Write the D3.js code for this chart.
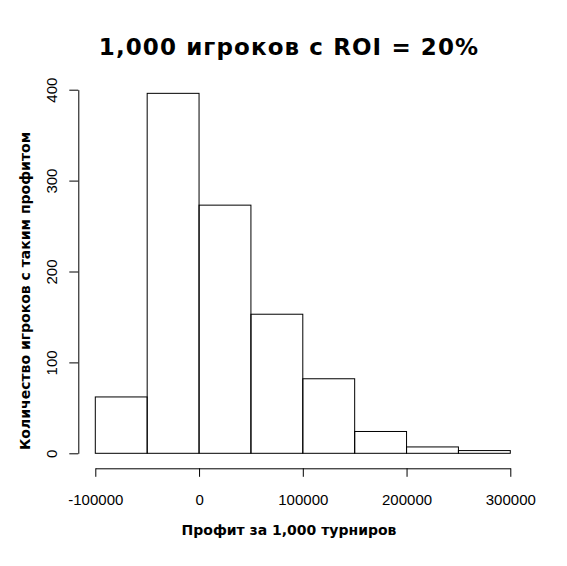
<!DOCTYPE html>
<html>
<head>
<meta charset="utf-8">
<script src="https://cdn.jsdelivr.net/npm/d3@7"></script>
<style>
  body { margin: 0; background: #fff; }
  svg { display: block; }
</style>
</head>
<body>
<svg id="chart" width="567" height="566"></svg>
<script>
// bin edges and counts
const binStarts = [-100000, -50000, 0, 50000, 100000, 150000, 200000, 250000];
const binWidth = 50000;
const counts = [62, 396, 273, 153, 82, 24, 7, 3];
const xTicks = [-100000, 0, 100000, 200000, 300000];
const yTicks = [0, 100, 200, 300, 400];

const titleText = "1,000 игроков с ROI = 20%";
const xLabel = "Профит за 1,000 турниров";
const yLabel = "Количество игроков с таким профитом";

const svg = d3.select("#chart");

const x = d3.scaleLinear().domain([-100000, 300000]).range([95.3, 510.3]);
const y = d3.scaleLinear().domain([0, 400]).range([453.3, 89.7]);

// bars
svg.append("g").selectAll("rect")
  .data(binStarts.map((s, i) => ({ s: s, n: counts[i] })))
  .join("rect")
    .attr("x", d => x(d.s))
    .attr("y", d => y(d.n))
    .attr("width", d => x(d.s + binWidth) - x(d.s))
    .attr("height", d => y(0) - y(d.n))
    .attr("fill", "none")
    .attr("stroke", "#000")
    .attr("stroke-width", 1);

// x axis (plain hyphen for negatives, like R)
const xAxis = svg.append("g")
  .attr("transform", "translate(0,468.3)")
  .call(d3.axisBottom(x).tickValues(xTicks).tickFormat(d => String(d)).tickSize(8.5).tickSizeOuter(0));
xAxis.select(".domain").attr("stroke", "#000");
xAxis.selectAll("text")
  .attr("font-family", "Liberation Sans, Arial, sans-serif")
  .attr("font-size", 15)
  .attr("fill", "#000")
  .attr("y", 36.7)
  .attr("dy", 0);

// y axis
const yAxis = svg.append("g")
  .attr("transform", "translate(78.3,0)")
  .call(d3.axisLeft(y).tickValues(yTicks).tickSize(9).tickSizeOuter(0).tickPadding(0));
yAxis.select(".domain").attr("stroke", "#000");
yAxis.selectAll("text")
  .attr("font-family", "Liberation Sans, Arial, sans-serif")
  .attr("font-size", 15)
  .attr("fill", "#000")
  .attr("text-anchor", "middle")
  .attr("x", 0)
  .attr("dy", 0)
  .attr("transform", "translate(-25,0) rotate(-90)")
  .attr("dominant-baseline", "middle");

// title
svg.append("text")
  .attr("x", 289).attr("y", 55)
  .attr("text-anchor", "middle")
  .attr("font-family", "DejaVu Sans, Verdana, sans-serif")
  .attr("font-weight", "bold")
  .attr("font-size", 23)
  .attr("letter-spacing", 1.1)
  .text(titleText);

// axis labels
svg.append("text")
  .attr("x", 289).attr("y", 535)
  .attr("text-anchor", "middle")
  .attr("font-family", "DejaVu Sans, Verdana, sans-serif")
  .attr("font-weight", "bold")
  .attr("font-size", 14)
  .text(xLabel);

svg.append("text")
  .attr("transform", "translate(30,291) rotate(-90)")
  .attr("text-anchor", "middle")
  .attr("font-family", "DejaVu Sans, Verdana, sans-serif")
  .attr("font-weight", "bold")
  .attr("font-size", 14)
  .text(yLabel);
</script>
</body>
</html>
